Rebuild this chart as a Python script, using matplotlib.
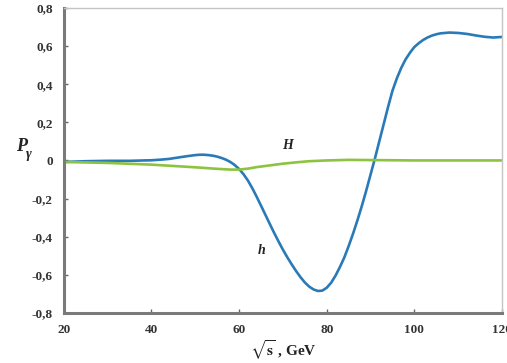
import matplotlib
matplotlib.use("Agg")
import matplotlib.pyplot as plt
from matplotlib import ticker

# energia (GeV) y polarizacion
s_h = [20, 25, 30, 35, 40, 42, 44, 46, 48, 50, 51, 52, 53, 54, 55, 56, 57,
       58, 59, 60, 61, 62, 63, 64, 65, 66, 67, 68, 69, 70, 71, 72, 73, 74,
       75, 76, 77, 78, 79, 80, 81, 82, 83, 84, 85, 86, 87, 88, 89, 90, 91,
       92, 93, 94, 95, 96, 97, 98, 99, 100, 101, 102, 103, 104, 105, 106,
       108, 110, 112, 114, 116, 118, 120]
p_h = [-0.008, -0.004, -0.002, -0.002, 0.001, 0.004, 0.008, 0.015, 0.022,
       0.028, 0.030, 0.030, 0.028, 0.025, 0.020, 0.013, 0.004,
       -0.008, -0.024, -0.045, -0.072, -0.105, -0.145, -0.190, -0.237,
       -0.285, -0.333, -0.380, -0.425, -0.468, -0.508, -0.545, -0.580,
       -0.612, -0.640, -0.662, -0.677, -0.685, -0.683, -0.668, -0.642,
       -0.605, -0.560, -0.510, -0.450, -0.385, -0.315, -0.240, -0.160,
       -0.075, 0.010, 0.100, 0.190, 0.280, 0.365, 0.430, 0.485, 0.530,
       0.565, 0.595, 0.615, 0.632, 0.645, 0.655, 0.662, 0.667,
       0.671, 0.669, 0.664, 0.656, 0.649, 0.645, 0.648]

s_H = [20, 30, 40, 50, 55, 58, 60, 62, 64, 67, 70, 73, 76, 80, 85, 90, 100,
       110, 120]
p_H = [-0.008, -0.013, -0.022, -0.036, -0.044, -0.048, -0.048, -0.043,
       -0.035, -0.026, -0.017, -0.010, -0.004, 0.0, 0.003, 0.002, 0.0,
       0.0, 0.0]

x_ticks = [20, 40, 60, 80, 100, 120]
y_ticks = [-0.8, -0.6, -0.4, -0.2, 0, 0.2, 0.4, 0.6, 0.8]

serif = ["Liberation Serif", "DejaVu Serif"]
plt.rcParams["mathtext.fontset"] = "stix"

fig = plt.figure(figsize=(5.07, 3.63), dpi=100)
ax = fig.add_axes([0.126, 0.138, 0.864, 0.840])

ax.plot(s_h, p_h, color="#2a7ab8", lw=1.9, solid_joinstyle="round")
ax.plot(s_H, p_H, color="#8cc440", lw=1.9, solid_joinstyle="round")

ax.set_xlim(20, 120)
ax.set_ylim(-0.8, 0.8)
ax.xaxis.set_major_locator(ticker.FixedLocator(x_ticks))
ax.yaxis.set_major_locator(ticker.FixedLocator(y_ticks))


def coma(v, pos):
    if abs(v) < 1e-9:
        return "0"
    return f"{v:g}".replace(".", ",")


ax.yaxis.set_major_formatter(ticker.FuncFormatter(coma))
ax.tick_params(direction="in", length=3, width=1, color="#666666",
               labelsize=9.5, labelcolor="#333333", pad=8)
for lab in ax.get_xticklabels() + ax.get_yticklabels():
    lab.set_fontfamily(serif)
    lab.set_fontweight("bold")

for lado in ["left", "bottom"]:
    ax.spines[lado].set_color("#7a7a7a")
    ax.spines[lado].set_linewidth(2.2)
for lado in ["top", "right"]:
    ax.spines[lado].set_color("#c4c4c4")
    ax.spines[lado].set_linewidth(1.0)

# etiquetas de las curvas
ax.text(71, 0.08, "H", family=serif, fontsize=10, fontweight="bold",
        style="italic", ha="center", va="center", color="#222222")
ax.text(65.2, -0.47, "h", family=serif, fontsize=10, fontweight="bold",
        style="italic", ha="center", va="center", color="#222222")

# ejes
fig.text(22 / 507, 1 - 146 / 363, "P", family=serif, fontsize=13,
         fontweight="bold", style="italic", ha="center", va="center",
         color="#222222")
fig.text(29 / 507, 1 - 154 / 363, "γ", family=serif, fontsize=10,
         fontweight="bold", style="italic", ha="center", va="center",
         color="#222222")
fig.text(283 / 507, 1 - 350 / 363, r"$\mathbf{\sqrt{s}}$ , GeV",
         family=serif, fontsize=11, fontweight="bold", ha="center",
         va="center", color="#222222")

fig.savefig("out.png", dpi=100)
